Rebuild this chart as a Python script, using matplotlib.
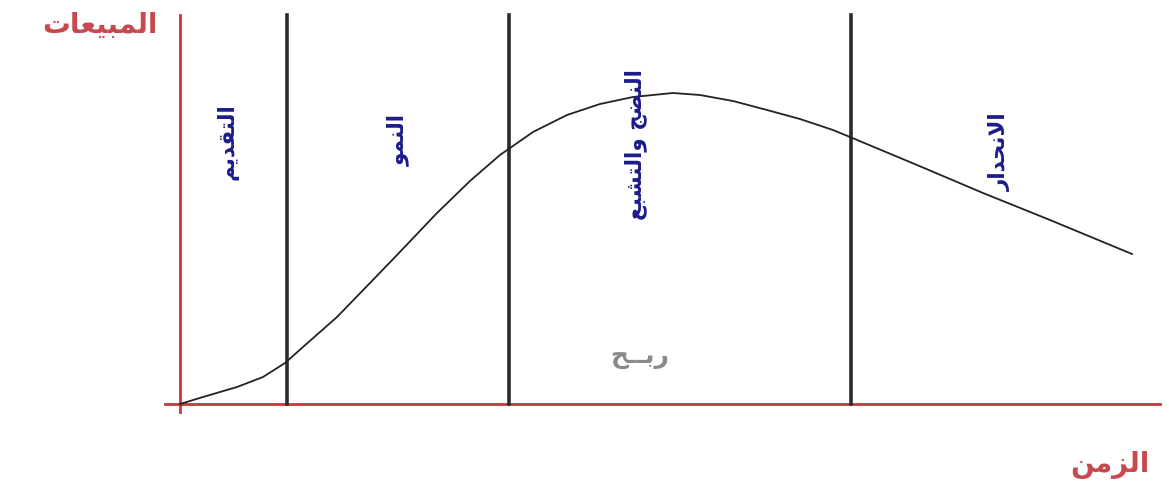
import matplotlib
matplotlib.use("Agg")
import matplotlib.pyplot as plt

# product life cycle curve (time, sales)
time = [0, 2.3, 5.7, 8.3, 10.5, 12.3, 15.7, 19, 21.7, 25.7, 29, 32, 35.3, 38.7, 42,
        45.3, 49.3, 52, 55.3, 58.7, 62, 65.3, 67, 73.7, 80.3, 87, 95.2]
sales = [0, 0.7, 1.7, 2.7, 4.1, 5.7, 8.7, 12.1, 14.9, 19.1, 22.3, 24.9, 27.2, 28.9, 30.0,
         30.7, 31.1, 30.9, 30.3, 29.4, 28.5, 27.4, 26.7, 23.9, 21.1, 18.4, 15.0]

stage_bounds = [10.7, 32.9, 67.1]
stage_names = ["التقديم", "النمو", "النضج والتشبع", "الانحدار"]
stage_label_x = [4.8, 21.8, 45.6, 82.0]
stage_label_y = [26.2, 26.4, 25.9, 25.2]

y_label = "المبيعات"
x_label = "الزمن"
profit_label = "ربــح"

# presentation forms: isolated, final, initial, medial
FORMS = {
    'ا': ('\ufe8d', '\ufe8e', None, None),
    'ب': ('\ufe8f', '\ufe90', '\ufe91', '\ufe92'),
    'ت': ('\ufe95', '\ufe96', '\ufe97', '\ufe98'),
    'ج': ('\ufe9d', '\ufe9e', '\ufe9f', '\ufea0'),
    'ح': ('\ufea1', '\ufea2', '\ufea3', '\ufea4'),
    'د': ('\ufea9', '\ufeaa', None, None),
    'ر': ('\ufead', '\ufeae', None, None),
    'ز': ('\ufeaf', '\ufeb0', None, None),
    'ش': ('\ufeb5', '\ufeb6', '\ufeb7', '\ufeb8'),
    'ض': ('\ufebd', '\ufebe', '\ufebf', '\ufec0'),
    'ع': ('\ufec9', '\ufeca', '\ufecb', '\ufecc'),
    'ق': ('\ufed5', '\ufed6', '\ufed7', '\ufed8'),
    'ل': ('\ufedd', '\ufede', '\ufedf', '\ufee0'),
    'م': ('\ufee1', '\ufee2', '\ufee3', '\ufee4'),
    'ن': ('\ufee5', '\ufee6', '\ufee7', '\ufee8'),
    'و': ('\ufeed', '\ufeee', None, None),
    'ي': ('\ufef1', '\ufef2', '\ufef3', '\ufef4'),
    'ﻻ': ('\ufefb', '\ufefc', None, None),
    'ـ': ('\u0640', '\u0640', '\u0640', '\u0640'),
}


def shape(text):
    # matplotlib does no arabic shaping, so pick the joined forms by hand
    text = text.replace('لا', 'ﻻ')
    out = []
    for i, ch in enumerate(text):
        if ch not in FORMS:
            out.append(ch)
            continue
        prev = text[i - 1] if i > 0 else ' '
        nxt = text[i + 1] if i + 1 < len(text) else ' '
        join_prev = prev in FORMS and FORMS[prev][2] is not None
        join_next = FORMS[ch][2] is not None and nxt in FORMS
        iso, fin, ini, med = FORMS[ch]
        if join_prev and join_next:
            out.append(med)
        elif join_prev:
            out.append(fin)
        elif join_next:
            out.append(ini)
        else:
            out.append(iso)
    return ''.join(out)[::-1]


fig = plt.figure(figsize=(11.69, 4.84), dpi=100)
ax = fig.add_axes([0, 0, 1, 1])
ax.set_xlim(-18, 98.9)
ax.set_ylim(-8, 40.4)
ax.axis('off')

axis_red = '#c23a3a'
ax.plot([0, 0], [38.9, -0.8], color=axis_red, lw=2)
ax.plot([-1.5, 98], [0, 0], color=axis_red, lw=2)

for b in stage_bounds:
    ax.plot([b, b], [38.9, 0], color='#2b2b2b', lw=2.6)

ax.plot(time, sales, color='#222222', lw=1.3)

font = ['DejaVu Sans']
for name, lx, ly in zip(stage_names, stage_label_x, stage_label_y):
    ax.text(lx, ly, shape(name), rotation=90, ha='center', va='center',
            fontsize=15.5, fontweight='bold', color='#1c1c8a', family=font)

ax.text(-2.2, 37.9, shape(y_label), ha='right', va='center',
        fontsize=20, fontweight='bold', color='#c8484f', family=font)
ax.text(97, -6.1, shape(x_label), ha='right', va='center',
        fontsize=20, fontweight='bold', color='#c8484f', family=font)
ax.text(46, 4.6, shape(profit_label), ha='center', va='center',
        fontsize=18, fontweight='bold', color='#8a8a8a', family=font)

fig.savefig('out.png', dpi=100)
